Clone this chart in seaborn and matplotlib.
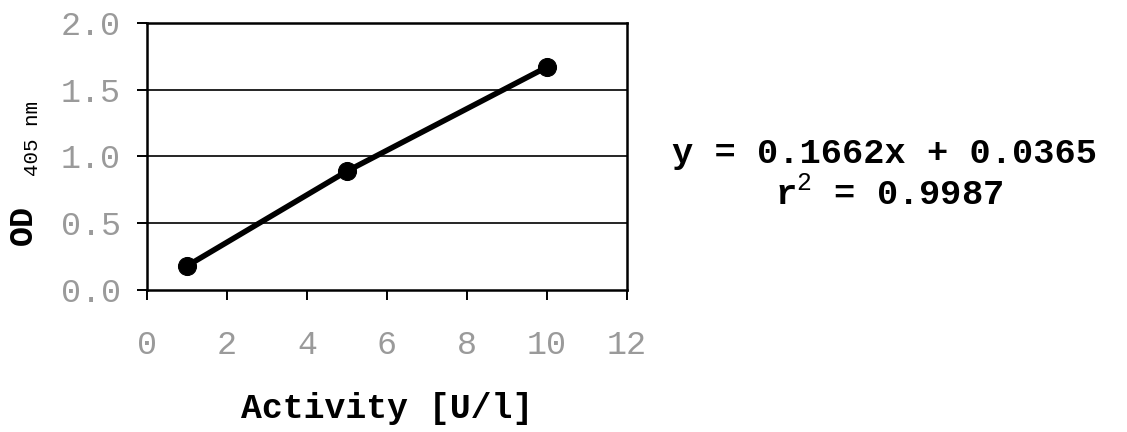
import pandas as pd
import matplotlib
matplotlib.use("Agg")
import matplotlib.pyplot as plt
import seaborn as sns

# --- data ---
activity = [1, 5, 10]          # U/l
od_405 = [0.18, 0.89, 1.67]    # OD at 405 nm
x_ticks = [0, 2, 4, 6, 8, 10, 12]
y_ticks = [0.0, 0.5, 1.0, 1.5, 2.0]
eq_text = "y = 0.1662x + 0.0365"
r2_text = "r$^{2}$ = 0.9987"

df = pd.DataFrame({"Activity": activity, "OD": od_405})

sns.set_theme(style="white")
plt.rcParams["font.family"] = ["Liberation Mono", "DejaVu Sans Mono"]
plt.rcParams["mathtext.fontset"] = "custom"
plt.rcParams["mathtext.rm"] = "Liberation Mono"
plt.rcParams["text.color"] = "black"
plt.rcParams["axes.labelcolor"] = "black"

fig = plt.figure(figsize=(11.27, 4.32), dpi=100)
ax = fig.add_axes([0.1304, 0.3287, 0.4259, 0.6181])

sns.lineplot(data=df, x="Activity", y="OD", ax=ax, color="black",
             linewidth=4, marker="o", markersize=13,
             markeredgecolor="black", markerfacecolor="black")

ax.set_xlim(0, 12)
ax.set_ylim(0, 2.0)
ax.set_xticks(x_ticks)
ax.set_yticks(y_ticks)
ax.set_xticklabels([str(t) for t in x_ticks])
ax.set_yticklabels([f"{t:.1f}" for t in y_ticks])

# horizontal grid only
for yv in y_ticks[1:-1]:
    ax.axhline(yv, color="black", linewidth=1.2, zorder=0)

for sp in ax.spines.values():
    sp.set_visible(True)
    sp.set_color("black")
    sp.set_linewidth(1.8)

ax.tick_params(axis="both", direction="out", length=7, width=1.4,
               color="black", labelsize=24, labelcolor="#9a9a9a")
ax.tick_params(axis="x", pad=22, bottom=True)
ax.tick_params(axis="y", pad=12, left=True)

ax.set_xlabel("Activity [U/l]", fontsize=25, fontweight="bold", labelpad=22,
              color="black")
ax.set_ylabel("")

# y-axis label: "OD" with smaller "405 nm"
fig.text(0.0205, 0.479, "OD", rotation=90, ha="center", va="center",
         fontsize=24, fontweight="bold", color="black")
fig.text(0.0285, 0.68, "405 nm", rotation=90, ha="center", va="center",
         fontsize=15, color="black")

# regression equation
fig.text(0.785, 0.645, eq_text, ha="center", va="center",
         fontsize=25.5, fontweight="bold", color="black")
fig.text(0.789, 0.553, r2_text, ha="center", va="center",
         fontsize=25.5, fontweight="bold", color="black")

fig.savefig("out.png", dpi=100, facecolor="white")
